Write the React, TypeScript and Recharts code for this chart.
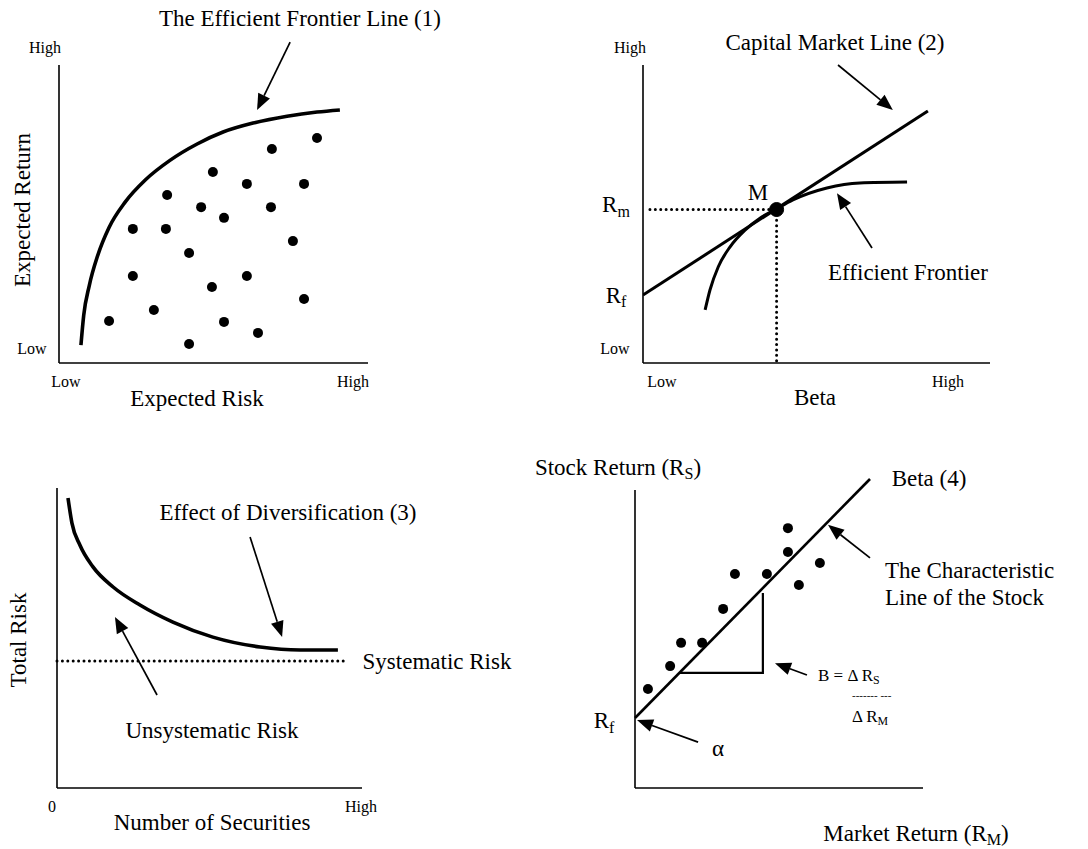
import React from 'react';
import { ComposedChart, Line, Scatter, XAxis, YAxis, ReferenceLine, ReferenceDot } from 'recharts';

const PAGE_W = 1088;
const PAGE_H = 849;
const FONT = '"Liberation Serif", "Times New Roman", Times, serif';

type Pt = { x: number; y: number };

// (1) efficient frontier + individual portfolios
const frontier1: Pt[] = [
  { x: 0.71, y: 0.6 }, { x: 0.8, y: 1.6 }, { x: 0.98, y: 2.6 }, { x: 1.25, y: 3.6 },
  { x: 1.62, y: 4.55 }, { x: 2.14, y: 5.4 }, { x: 2.8, y: 6.15 }, { x: 3.59, y: 6.8 },
  { x: 4.47, y: 7.35 }, { x: 5.31, y: 7.75 }, { x: 6.28, y: 8.05 }, { x: 7.38, y: 8.28 },
  { x: 8.35, y: 8.42 }, { x: 9.09, y: 8.49 },
];
const portfolios1: Pt[] = [
  { x: 8.35, y: 7.55 }, { x: 6.89, y: 7.18 }, { x: 4.98, y: 6.41 }, { x: 6.08, y: 6.01 },
  { x: 7.93, y: 6.01 }, { x: 3.5, y: 5.64 }, { x: 4.6, y: 5.23 }, { x: 6.86, y: 5.23 },
  { x: 5.34, y: 4.87 }, { x: 2.39, y: 4.5 }, { x: 3.46, y: 4.5 }, { x: 7.57, y: 4.09 },
  { x: 4.21, y: 3.69 }, { x: 2.39, y: 2.92 }, { x: 6.08, y: 2.92 }, { x: 4.95, y: 2.55 },
  { x: 7.93, y: 2.15 }, { x: 3.07, y: 1.78 }, { x: 1.62, y: 1.41 }, { x: 5.34, y: 1.38 },
  { x: 6.44, y: 1.01 }, { x: 4.21, y: 0.64 },
];
const arrows1: [Pt, Pt][] = [[{ x: 7.48, y: 10.77 }, { x: 6.41, y: 8.49 }]];

// (2) capital market line
const cml: Pt[] = [{ x: 0, y: 2.28 }, { x: 8.21, y: 8.46 }];
const frontier2: Pt[] = [
  { x: 1.79, y: 1.78 }, { x: 1.93, y: 2.45 }, { x: 2.17, y: 3.23 }, { x: 2.51, y: 3.9 },
  { x: 2.94, y: 4.46 }, { x: 3.37, y: 4.86 }, { x: 3.83, y: 5.16 }, { x: 4.32, y: 5.47 },
  { x: 5.3, y: 5.87 }, { x: 6.25, y: 6.04 }, { x: 7.61, y: 6.07 },
];
const market: Pt = { x: 3.85, y: 5.15 };
const arrows2: [Pt, Pt][] = [
  [{ x: 5.62, y: 10.0 }, { x: 7.2, y: 8.49 }],
  [{ x: 6.6, y: 3.86 }, { x: 5.59, y: 5.7 }],
];

// (3) diversification
const diversification: Pt[] = [
  { x: 0.36, y: 9.67 }, { x: 0.49, y: 8.83 }, { x: 0.75, y: 8.1 }, { x: 1.18, y: 7.37 },
  { x: 1.84, y: 6.7 }, { x: 2.72, y: 6.1 }, { x: 3.8, y: 5.53 }, { x: 5.11, y: 5.03 },
  { x: 6.66, y: 4.7 }, { x: 7.97, y: 4.6 }, { x: 9.21, y: 4.6 },
];
const systematicRisk = 4.23;
const systematicEnd = 9.51;
const arrows3: [Pt, Pt][] = [
  [{ x: 6.33, y: 8.37 }, { x: 7.38, y: 5.03 }],
  [{ x: 3.28, y: 3.1 }, { x: 1.9, y: 5.7 }],
];

// (4) beta / characteristic line
const stockReturns: Pt[] = [
  { x: 5.31, y: 8.72 }, { x: 5.31, y: 7.92 }, { x: 6.42, y: 7.55 }, { x: 3.47, y: 7.18 },
  { x: 4.58, y: 7.18 }, { x: 5.69, y: 6.81 }, { x: 3.06, y: 6.01 }, { x: 1.6, y: 4.87 },
  { x: 2.33, y: 4.87 }, { x: 1.22, y: 4.09 }, { x: 0.45, y: 3.32 },
];
const characteristic: [Pt, Pt] = [{ x: 0, y: 2.35 }, { x: 8.16, y: 10.37 }];
const slopeTriangle: Pt[] = [{ x: 1.56, y: 3.86 }, { x: 4.44, y: 3.86 }, { x: 4.44, y: 6.54 }];
const arrows4: [Pt, Pt][] = [
  [{ x: 2.19, y: 1.54 }, { x: 0.07, y: 2.28 }],
  [{ x: 8.16, y: 7.72 }, { x: 6.7, y: 8.83 }],
  [{ x: 5.97, y: 3.79 }, { x: 4.86, y: 4.19 }],
];

// tick values and labels ("_" marks a subscript)
const x1Ticks = [0, 10];
const x1Labels = ['Low', 'High'];
const y1Ticks = [0, 10];
const y1Labels = ['Low', 'High'];
const x2Ticks = [0, 10];
const x2Labels = ['Low', 'High'];
const y2Ticks = [0, 2.28, 5.15, 10];
const y2Labels = ['Low', 'R_f', 'R_m', 'High'];
const x3Ticks = [0, 10];
const x3Labels = ['0', 'High'];
const y4Ticks = [2.35];
const y4Labels = ['R_f'];

// plot rectangles in page pixels: left, top, right, bottom
const RECT1 = [59, 65, 368, 363];
const RECT2 = [643, 65, 990, 363];
const RECT3 = [57, 488, 362, 788];
const RECT4 = [635, 490, 923, 788];

const AXIS = { stroke: '#000', strokeWidth: 1.6 };
const TXT = 23;

function splitSub(s: string) {
  const i = s.indexOf('_');
  return i < 0 ? [s, ''] : [s.slice(0, i), s.slice(i + 1)];
}

function makeTick(labels: string[], offsets: [number, number][], size: number) {
  return (props: any) => {
    const { x, y, index } = props;
    const [main, sub] = splitSub(labels[index] ?? '');
    const [dx, dy] = offsets[index] ?? [0, 0];
    return (
      <text
        x={x + dx}
        y={y + dy}
        textAnchor="middle"
        dominantBaseline="central"
        fontFamily={FONT}
        fontSize={sub ? 23 : size}
        fill="#000"
      >
        {main}
        {sub && (
          <tspan fontSize={16} dy={6}>
            {sub}
          </tspan>
        )}
      </text>
    );
  };
}

function arrowShape(props: any) {
  const { x1, y1, x2, y2 } = props;
  const a = Math.atan2(y2 - y1, x2 - x1);
  const len = 16;
  const half = 6.5;
  const bx = x2 - len * Math.cos(a);
  const by = y2 - len * Math.sin(a);
  const nx = -Math.sin(a) * half;
  const ny = Math.cos(a) * half;
  return (
    <g>
      <line x1={x1} y1={y1} x2={bx} y2={by} stroke="#000" strokeWidth={1.7} />
      <polygon points={`${x2},${y2} ${bx + nx},${by + ny} ${bx - nx},${by - ny}`} fill="#000" />
    </g>
  );
}

const dotShape = (r: number) => (p: any) => <circle cx={p.cx} cy={p.cy} r={r} fill="#000" />;

// axes need a non-zero size to be drawn, so 1px is taken off the margins
function Frame({ rect, children }: { rect: number[]; children: React.ReactNode }) {
  const [l, t, r, b] = rect;
  return (
    <div style={{ position: 'absolute', left: 0, top: 0 }}>
      <ComposedChart
        width={PAGE_W}
        height={PAGE_H}
        margin={{ left: l - 1, top: t, right: PAGE_W - r, bottom: PAGE_H - b - 1 }}
        style={{ overflow: 'visible' }}
      >
        {children}
      </ComposedChart>
    </div>
  );
}

function axes(
  xTicks: number[] | null,
  xTick: any,
  yTicks: number[] | null,
  yTick: any,
) {
  return [
    <XAxis
      key="x"
      type="number"
      dataKey="x"
      domain={[0, 10]}
      allowDataOverflow
      ticks={xTicks ?? [0]}
      interval={0}
      height={1}
      tickSize={0}
      tickMargin={0}
      tickLine={false}
      axisLine={AXIS}
      tick={xTicks ? xTick : false}
    />,
    <YAxis
      key="y"
      type="number"
      dataKey="y"
      domain={[0, 10]}
      allowDataOverflow
      ticks={yTicks ?? [0]}
      interval={0}
      width={1}
      tickSize={0}
      tickMargin={0}
      tickLine={false}
      axisLine={AXIS}
      tick={yTicks ? yTick : false}
    />,
  ];
}

function arrowLines(list: [Pt, Pt][], key: string) {
  return list.map((seg, i) => (
    <ReferenceLine key={`${key}${i}`} segment={seg} ifOverflow="visible" shape={arrowShape} />
  ));
}

const DOTTED = { stroke: '#000', strokeWidth: 3, strokeDasharray: '0 5.4', strokeLinecap: 'round' as const };

function Note({
  x, y, size = TXT, rotate = false, align = 'center', children,
}: { x: number; y: number; size?: number; rotate?: boolean; align?: 'center' | 'left'; children: React.ReactNode }) {
  const shift = align === 'center' ? 'translate(-50%,-50%)' : 'translate(0,-50%)';
  return (
    <div
      style={{
        position: 'absolute',
        left: x,
        top: y,
        transform: shift + (rotate ? ' rotate(-90deg)' : ''),
        fontSize: size,
        lineHeight: 1,
        whiteSpace: 'nowrap',
        color: '#000',
      }}
    >
      {children}
    </div>
  );
}

const Sub = ({ children }: { children: React.ReactNode }) => (
  <sub style={{ fontSize: '0.7em', verticalAlign: '-0.3em', lineHeight: 0 }}>{children}</sub>
);

export default function App() {
  return (
    <div
      style={{
        position: 'absolute',
        left: 0,
        top: 0,
        width: PAGE_W,
        height: PAGE_H,
        background: '#fff',
        overflow: 'hidden',
        fontFamily: FONT,
      }}
    >
      {/* (1) Efficient frontier */}
      <Frame rect={RECT1}>
        {axes(
          x1Ticks, makeTick(x1Labels, [[7, 18], [-15, 18]], 16),
          y1Ticks, makeTick(y1Labels, [[-27, -15], [-14, -18]], 16),
        )}
        <Line data={frontier1} dataKey="y" type="monotone" stroke="#000" strokeWidth={3.6} dot={false} isAnimationActive={false} />
        <Scatter data={portfolios1} fill="#000" shape={dotShape(5)} isAnimationActive={false} />
        {arrowLines(arrows1, 'a1')}
      </Frame>

      {/* (2) Capital market line */}
      <Frame rect={RECT2}>
        {axes(
          x2Ticks, makeTick(x2Labels, [[19, 18], [-42, 18]], 16),
          y2Ticks, makeTick(y2Labels, [[-28, -15], [-27, 0], [-27, -5], [-13, -18]], 16),
        )}
        <ReferenceLine segment={[{ x: 0.2, y: market.y }, market]} ifOverflow="visible" {...DOTTED} />
        <ReferenceLine segment={[market, { x: market.x, y: 0 }]} ifOverflow="visible" {...DOTTED} />
        <Line data={cml} dataKey="y" type="linear" stroke="#000" strokeWidth={3} dot={false} isAnimationActive={false} />
        <Line data={frontier2} dataKey="y" type="monotone" stroke="#000" strokeWidth={3} dot={false} isAnimationActive={false} />
        <ReferenceDot x={market.x} y={market.y} r={7} fill="#000" stroke="#000" />
        {arrowLines(arrows2, 'a2')}
      </Frame>

      {/* (3) Diversification */}
      <Frame rect={RECT3}>
        {axes(x3Ticks, makeTick(x3Labels, [[-5, 18], [-1, 18]], 16), null, null)}
        <ReferenceLine
          segment={[{ x: 0, y: systematicRisk }, { x: systematicEnd, y: systematicRisk }]}
          ifOverflow="visible"
          {...DOTTED}
        />
        <Line data={diversification} dataKey="y" type="monotone" stroke="#000" strokeWidth={3.6} dot={false} isAnimationActive={false} />
        {arrowLines(arrows3, 'a3')}
      </Frame>

      {/* (4) Beta */}
      <Frame rect={RECT4}>
        {axes(null, null, y4Ticks, makeTick(y4Labels, [[-31, 3]], 16))}
        <ReferenceLine segment={characteristic} ifOverflow="visible" stroke="#000" strokeWidth={2.6} />
        <Line data={slopeTriangle} dataKey="y" type="linear" stroke="#000" strokeWidth={2.2} dot={false} isAnimationActive={false} />
        <Scatter data={stockReturns} fill="#000" shape={dotShape(5)} isAnimationActive={false} />
        {arrowLines(arrows4, 'a4')}
      </Frame>

      {/* text */}
      <Note x={300} y={18}>The Efficient Frontier Line (1)</Note>
      <Note x={197} y={398}>Expected Risk</Note>
      <Note x={22} y={210} rotate>Expected Return</Note>

      <Note x={835} y={42}>Capital Market Line (2)</Note>
      <Note x={758} y={192}>M</Note>
      <Note x={908} y={272}>Efficient Frontier</Note>
      <Note x={815} y={397}>Beta</Note>

      <Note x={288} y={512}>Effect of Diversification (3)</Note>
      <Note x={437} y={661}>Systematic Risk</Note>
      <Note x={212} y={730}>Unsystematic Risk</Note>
      <Note x={212} y={822}>Number of Securities</Note>
      <Note x={18} y={640} rotate>Total Risk</Note>

      <Note x={618} y={467}>Stock Return (R<Sub>S</Sub>)</Note>
      <Note x={929} y={478}>Beta (4)</Note>
      <Note x={885} y={570} align="left">The Characteristic</Note>
      <Note x={885} y={597} align="left">Line of the Stock</Note>
      <Note x={718} y={748}>α</Note>
      <Note x={818} y={675} size={17} align="left">B = Δ R<Sub>S</Sub></Note>
      <Note x={852} y={695} size={11} align="left">------- ---</Note>
      <Note x={852} y={716} size={17} align="left">Δ R<Sub>M</Sub></Note>
      <Note x={916} y={833}>Market Return (R<Sub>M</Sub>)</Note>
    </div>
  );
}
